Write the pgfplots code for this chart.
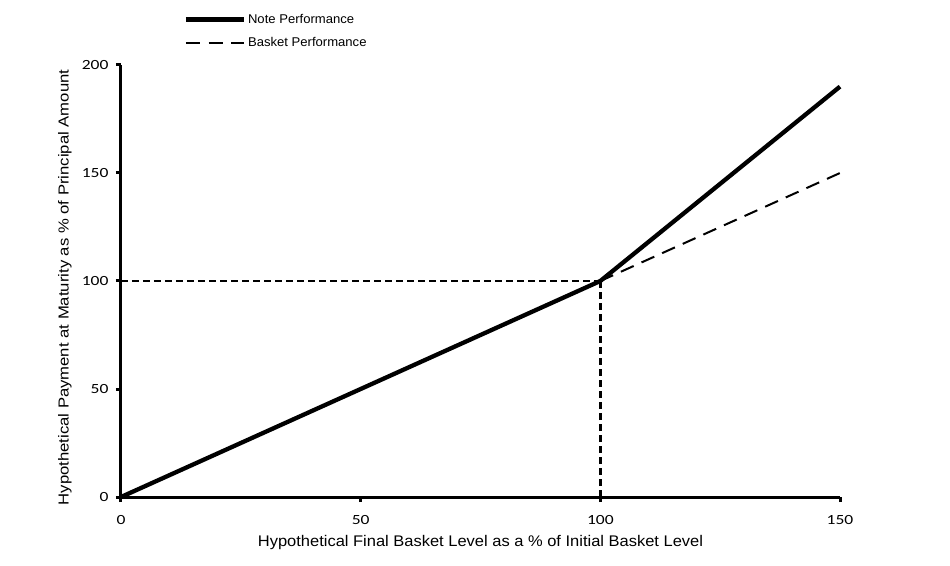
\documentclass[border=0pt]{standalone}
\usepackage{pgfplots}
\pgfplotsset{compat=1.18}
\usepackage{fontspec}
\setmainfont{Liberation Sans}
\newfontfamily\tickfont[FakeStretch=1.25]{Carlito}
\newfontfamily\xlabfont[FakeStretch=1.07]{Liberation Sans}
\newfontfamily\ylabfont[FakeStretch=1.15]{Liberation Sans}
\newfontfamily\legfont[FakeStretch=1.03]{Liberation Sans}
\begin{document}
\begin{tikzpicture}
\path[use as bounding box] (-121bp,-69bp) rectangle (829bp,497bp);
\begin{axis}[
  scale only axis,
  width=719bp, height=432bp,
  anchor=south west, at={(0,0)},
  xmin=0, xmax=150, ymin=0, ymax=200,
  xtick={0,50,100,150}, ytick={0,50,100,150,200},
  axis x line=bottom, axis y line=left,
  axis line style={-, line width=3bp},
  tick align=outside, major tick length=5bp,
  every tick/.style={black, line width=3bp},
  /pgf/number format/assume math mode=true,
  ticklabel style={font=\tickfont\fontsize{14bp}{16bp}\selectfont},
  xticklabel style={yshift=-10bp},
  yticklabel style={xshift=-4bp},
  clip=false,
  xlabel={Hypothetical Final Basket Level as a \% of Initial Basket Level},
  ylabel={Hypothetical Payment at Maturity as \% of Principal Amount},
  every axis x label/.style={at={(axis description cs:0.5,-0.106)},anchor=center,font=\xlabfont\fontsize{15.4bp}{17bp}\selectfont},
  every axis y label/.style={at={(axis description cs:-0.078,0.485)},rotate=90,anchor=center,font=\ylabfont\fontsize{14.5bp}{17bp}\selectfont},
  legend style={at={(axis description cs:0.087,1.123)},anchor=north west,
    draw=none, fill=none, font=\legfont\fontsize{12.7bp}{14bp}\selectfont,
    row sep=8.5bp, inner sep=0pt, cells={anchor=west}},
  legend cell align=left,
  legend image code/.code={\draw[#1] (0bp,0bp) -- (58bp,0bp);},
]
\addplot[black, line width=2bp, dash pattern=on 14bp off 8.6bp, forget plot] coordinates {(100,100) (150,150)};
\addplot[black, line width=2.8bp, dash pattern=on 7bp off 4bp, forget plot] coordinates {(0,100) (100,100)};
\addplot[black, line width=2.8bp, dash pattern=on 7bp off 4bp, forget plot] coordinates {(100,0) (100,100)};
\addplot[black, line width=4.3bp, line join=round] coordinates {(0,0) (100,100) (150,190)};
\addlegendentry{Note Performance}
\addlegendimage{black, line width=2bp, dash pattern=on 14bp off 8.6bp}
\addlegendentry{Basket Performance}
\end{axis}
\end{tikzpicture}
\end{document}
